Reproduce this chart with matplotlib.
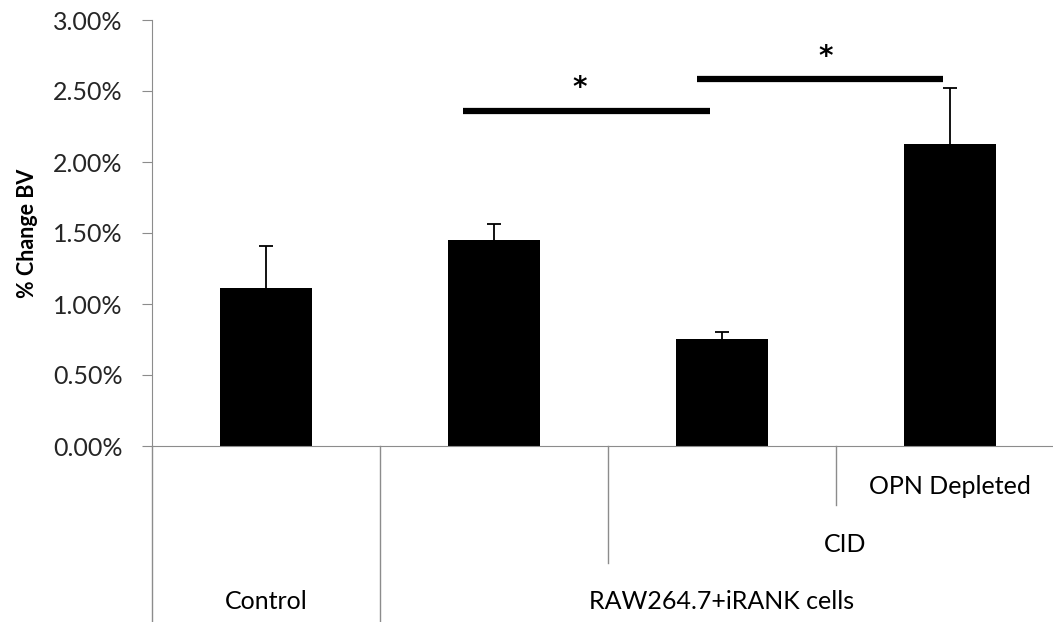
import matplotlib.pyplot as plt
from matplotlib.ticker import PercentFormatter

# values (fractions, shown as %)
groups = ["Control", "RAW264.7+iRANK cells"]
sub_labels = ["", "", "CID", "OPN Depleted"]
values = [0.0111, 0.0145, 0.00753, 0.0213]
errors = [0.0030, 0.0011, 0.0005, 0.0039]
yticks = [0, 0.005, 0.01, 0.015, 0.02, 0.025, 0.03]

# significance bars: (x start, x end, height)
sig_bars = [(0.864, 1.947, 0.0236), (1.89, 2.97, 0.02585)]
sig_stars = [(1.377, 0.0252), (2.456, 0.0274)]

plt.rcParams["font.family"] = ["Lato", "DejaVu Sans"]
grey = "#8c8c8c"

fig = plt.figure(figsize=(10.53, 6.22), dpi=100)
ax = fig.add_axes([152 / 1053, 1 - 446 / 622, 912 / 1053, 426 / 622])

x = list(range(len(values)))
ax.bar(x, values, width=0.4, color="black", zorder=2)
eb = ax.errorbar(x, values, yerr=[[0] * len(errors), errors], fmt="none",
                 ecolor="black", elinewidth=1.3, capsize=5, capthick=1.3, zorder=3)
# only keep the upper caps
eb[1][0].set_visible(False)

for x0, x1, h in sig_bars:
    ax.plot([x0, x1], [h, h], color="black", linewidth=4.5, solid_capstyle="butt")
for sx, sy in sig_stars:
    ax.text(sx, sy, "*", ha="center", va="center", fontsize=20,
            family="DejaVu Sans", fontweight="bold")

ax.set_xlim(-0.5, len(values) - 0.5)
ax.set_ylim(0, 0.03)
ax.set_yticks(yticks)
ax.yaxis.set_major_formatter(PercentFormatter(1.0, decimals=2))
ax.tick_params(axis="y", labelsize=18, length=7, color=grey, labelcolor="#262626", pad=14)
ax.set_xticks([])
ax.set_ylabel("% Change BV", fontsize=15.5, fontweight="bold", labelpad=11)

for side in ["top", "right"]:
    ax.spines[side].set_visible(False)
ax.spines["left"].set_color(grey)
ax.spines["bottom"].set_color(grey)

# multi-level category axis below the plot
tr = ax.get_xaxis_transform()
line_kw = dict(color=grey, linewidth=1, clip_on=False, transform=tr)
ax.plot([-0.5, -0.5], [0, -0.42], **line_kw)
ax.plot([0.5, 0.5], [0, -0.42], **line_kw)
ax.plot([1.5, 1.5], [0, -0.275], **line_kw)
ax.plot([2.5, 2.5], [0, -0.138], **line_kw)

ax.text(3, -0.096, sub_labels[3], transform=tr, ha="center", va="center", fontsize=18)
ax.text(2.54, -0.232, sub_labels[2], transform=tr, ha="center", va="center", fontsize=18)
ax.text(0, -0.366, groups[0], transform=tr, ha="center", va="center", fontsize=18)
ax.text(2, -0.366, groups[1], transform=tr, ha="center", va="center", fontsize=18)

fig.savefig("out.png", dpi=100)
